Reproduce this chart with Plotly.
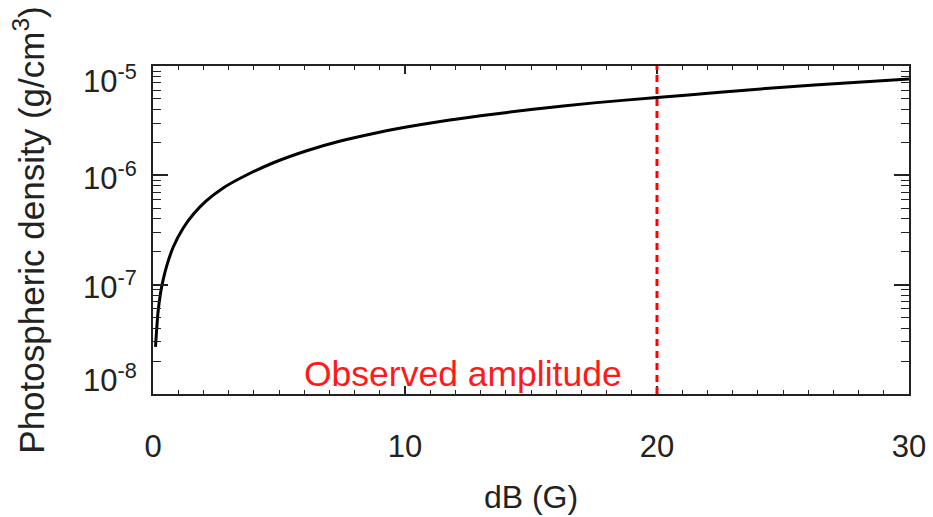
import numpy as np
import plotly.graph_objects as go

# Field perturbation amplitude dB (G) and corresponding photospheric density (g/cm^3)
dB = [0.10, 0.20, 0.30, 0.40, 0.55, 0.80, 1.20, 1.60, 2.10, 2.80, 3.50, 4.80,
      6.10, 7.40, 8.80, 10.0, 11.4, 13.0, 15.0, 17.5, 20.0, 22.5, 25.0, 27.5, 30.0]
density = [2.7e-8, 5.6e-8, 8.4e-8, 1.1e-7, 1.5e-7, 2.2e-7, 3.3e-7, 4.4e-7, 5.8e-7,
           7.7e-7, 9.5e-7, 1.31e-6, 1.68e-6, 2.05e-6, 2.43e-6, 2.75e-6, 3.11e-6,
           3.5e-6, 4.0e-6, 4.6e-6, 5.15e-6, 5.75e-6, 6.4e-6, 7.0e-6, 7.6e-6]

observed_amplitude = 20.0
observed_label = "Observed amplitude"

x_range = [0, 30]
x_ticks = [0, 10, 20, 30]
y_range = [1e-8, 1e-5]
y_ticks = [1e-5, 1e-6, 1e-7, 1e-8]
y_ticktext = ["10<sup>-5</sup>", "10<sup>-6</sup>", "10<sup>-7</sup>", "10<sup>-8</sup>"]

FONT = "Liberation Sans, Arial, Helvetica, sans-serif"
INK = "#222222"

fig = go.Figure()

fig.add_trace(go.Scatter(
    x=dB, y=density, mode="lines",
    line=dict(color="black", width=3, shape="spline", smoothing=0.8),
    showlegend=False, hoverinfo="skip",
))

fig.add_vline(x=observed_amplitude, line=dict(color="#ff0000", width=3, dash="7px,5px"))

# log-axis minor ticks at 2..9 x 10^n
minor_vals = [k * 10.0 ** e for e in range(-8, -5) for k in range(2, 10)]

fig.update_xaxes(
    range=x_range, tickvals=x_ticks, ticktext=[str(v) for v in x_ticks],
    ticks="inside", ticklen=8, tickwidth=1.5, tickcolor=INK,
    showline=True, linecolor=INK, linewidth=1.5, mirror="ticks",
    showgrid=False, zeroline=False,
    minor=dict(dtick=1, ticks="inside", ticklen=4, tickwidth=1.2, tickcolor=INK, showgrid=False),
    tickfont=dict(family=FONT, size=31, color=INK),
    ticklabelstandoff=24,
    title=dict(text="dB (G)", font=dict(family=FONT, size=32, color=INK), standoff=23),
)

fig.update_yaxes(
    type="log", range=[np.log10(y_range[0]), np.log10(y_range[1])],
    tickvals=y_ticks, showticklabels=False,
    ticks="inside", ticklen=15, tickwidth=1.5, tickcolor=INK,
    showline=True, linecolor=INK, linewidth=1.5, mirror="ticks",
    showgrid=False, zeroline=False,
    minor=dict(tickmode="array", tickvals=minor_vals, ticks="inside", ticklen=8,
               tickwidth=1.2, tickcolor=INK, showgrid=False),
    title=dict(text="Photospheric density (g/cm<sup>3</sup>)",
               font=dict(family=FONT, size=35, color=INK), standoff=96),
)

# decade labels, end labels pulled inside the frame
label_shift = {1e-5: -13, 1e-6: -1, 1e-7: 0, 1e-8: 16}
for val, txt in zip(y_ticks, y_ticktext):
    fig.add_annotation(
        x=0, xref="paper", y=np.log10(val), yref="y",
        text=txt, showarrow=False, xanchor="right", yanchor="middle",
        xshift=-14, yshift=label_shift[val],
        font=dict(family=FONT, size=31, color=INK),
    )

fig.add_annotation(
    x=np.mean(x_range) - 2.7, xref="x", y=0.062, yref="paper",
    text=observed_label, showarrow=False, xanchor="center", yanchor="middle",
    font=dict(family=FONT, size=35.5, color="#ff1a1a"),
)

fig.update_layout(
    width=933, height=517,
    margin=dict(l=153, r=24, t=66, b=123, autoexpand=False),
    paper_bgcolor="white", plot_bgcolor="white",
    showlegend=False,
)

fig.write_html("out.html")
